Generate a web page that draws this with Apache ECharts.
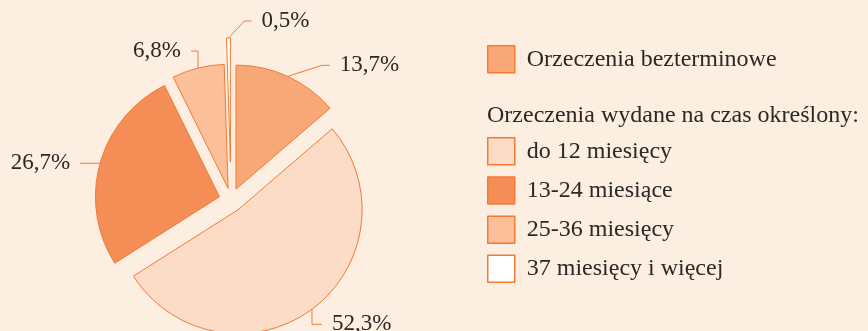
<!DOCTYPE html>
<html>
<head>
<meta charset="utf-8">
<script src="https://cdn.jsdelivr.net/npm/echarts@6/dist/echarts.min.js"></script>
<style>
  html, body { margin: 0; padding: 0; background: #fdeee2; }
  #chart { width: 868px; height: 331px; }
</style>
</head>
<body>
<div id="chart"></div>
<script>
// Struktura orzeczeń według okresu ważności (%)
const categories = [
  'Orzeczenia bezterminowe',
  'do 12 miesięcy',
  '13-24 miesiące',
  '25-36 miesięcy',
  '37 miesięcy i więcej'
];
const shares = [13.7, 52.3, 26.7, 6.8, 0.5];
const sliceColors = ['#f8a877', '#fddcc7', '#f58d57', '#fbbf9a', '#ffffff'];
const groupHeader = 'Orzeczenia wydane na czas określony:';

// how far each slice is pulled out of the pie (px)
const sliceOffsets = [12, 12, 12, 12, 38];

// leader line shape per slice, relative to where it leaves the arc:
// [elbow dx, elbow dy, horizontal run] (negative run = label on the left)
const leaderShapes = [
  [34, -11, 8],
  [0, 15, 10],
  [-9, 0, -11],
  [0, -17, -7],
  [16, -17, 7]
];
const leaderGap = 10;

const pieCenter = [231, 200];
const pieRadius = 124;

const edge = '#f47a35';
const ink = '#2b2826';
const font = 'Liberation Serif';
const clear = 'rgba(0,0,0,0)';

const fmt = v => v.toFixed(1).replace('.', ',') + '%';

// sectors are drawn by two series (one per pull-out distance);
// a third, invisible series of the same data carries the labels
const offsetGroups = [...new Set(sliceOffsets)];

function sectorData(offset) {
  return categories.map((name, i) => {
    const on = sliceOffsets[i] === offset;
    return {
      name,
      value: shares[i],
      selected: true,
      itemStyle: on
        ? { color: sliceColors[i], borderColor: edge, borderWidth: 1 }
        : { color: clear, borderWidth: 0 }
    };
  });
}

function leaderLayout(params) {
  const pts = params.labelLinePoints;
  if (!pts) return {};
  const i = params.dataIndex;
  const s = leaderShapes[i];
  // move the arc point outwards together with its pulled-out slice
  const vx = pts[0][0] - pieCenter[0];
  const vy = pts[0][1] - pieCenter[1];
  const len = Math.hypot(vx, vy) || 1;
  const p0 = [pts[0][0] + vx / len * sliceOffsets[i], pts[0][1] + vy / len * sliceOffsets[i]];
  const elbow = [p0[0] + s[0], p0[1] + s[1]];
  const end = [elbow[0] + s[2], elbow[1]];
  const right = s[2] >= 0;
  return {
    x: end[0] + (right ? leaderGap : -leaderGap),
    y: end[1],
    align: right ? 'left' : 'right',
    verticalAlign: 'middle',
    labelLinePoints: [p0, elbow, end]
  };
}

const pieBase = {
  type: 'pie',
  center: pieCenter,
  radius: [0, pieRadius],
  startAngle: 90,
  clockwise: true,
  silent: true,
  avoidLabelOverlap: false,
  emphasis: { disabled: true }
};

const sectorSeries = offsetGroups.map(offset => Object.assign({}, pieBase, {
  name: 'sectors-' + offset,
  selectedMode: 'multiple',
  selectedOffset: offset,
  select: { itemStyle: {} },
  label: { show: false },
  labelLine: { show: false },
  data: sectorData(offset)
}));

const labelSeries = Object.assign({}, pieBase, {
  name: 'labels',
  itemStyle: { color: clear, borderWidth: 0 },
  label: {
    show: true,
    formatter: p => fmt(p.value),
    color: ink,
    fontFamily: font,
    fontSize: 23
  },
  labelLine: {
    show: true,
    length: 14,
    length2: 10,
    lineStyle: { color: edge, width: 1 }
  },
  labelLayout: leaderLayout,
  data: categories.map((name, i) => ({ name, value: shares[i] }))
});

const legendCommon = {
  orient: 'vertical',
  left: 487,
  padding: 0,
  itemWidth: 27,
  itemHeight: 27,
  itemGap: 10.7,
  icon: 'rect',
  selectedMode: false,
  textStyle: { fontFamily: font, fontSize: 24, lineHeight: 27, color: ink, padding: [0, 0, 0, 7] }
};

const legendItem = i => ({
  name: categories[i],
  itemStyle: { color: sliceColors[i], borderColor: edge, borderWidth: 1.5 }
});

const chart = echarts.init(document.getElementById('chart'), null, { renderer: 'canvas' });
chart.setOption({
  animation: false,
  backgroundColor: '#fdeee2',
  title: {
    text: groupHeader,
    left: 487,
    top: 104,
    padding: 0,
    textStyle: { fontFamily: font, fontSize: 24, fontWeight: 'normal', color: ink }
  },
  legend: [
    Object.assign({}, legendCommon, { top: 45, data: [legendItem(0)] }),
    Object.assign({}, legendCommon, {
      top: 137,
      data: categories.slice(1).map((_, k) => legendItem(k + 1))
    })
  ],
  series: [...sectorSeries, labelSeries]
});
</script>
</body>
</html>
